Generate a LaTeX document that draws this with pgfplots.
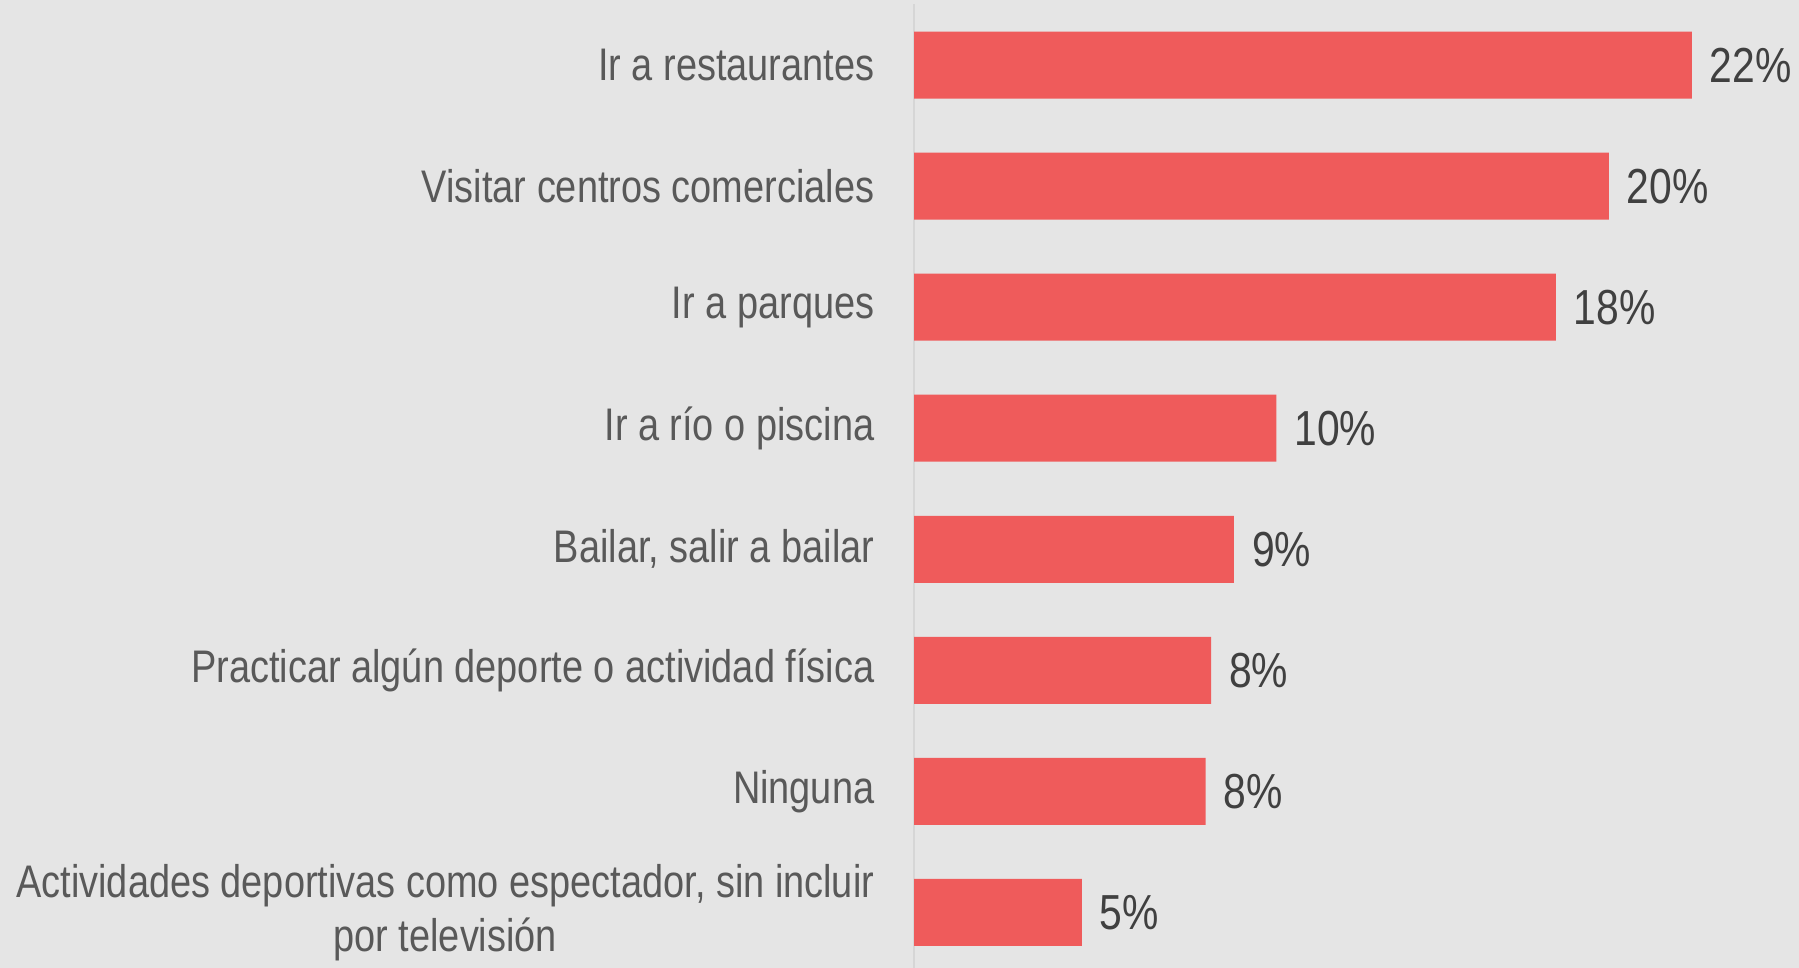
\documentclass[border=0pt]{standalone}
\usepackage{pgfplots}
\pgfplotsset{compat=1.18}
\usepackage{fontspec}
\setmainfont{Liberation Sans}[FakeStretch=0.83]
\definecolor{bg}{HTML}{E5E5E5}
\definecolor{barred}{HTML}{EF5B5B}
\definecolor{labelgray}{HTML}{595959}
\definecolor{numgray}{HTML}{404040}
\definecolor{axisgray}{HTML}{D6D6D6}
\begin{document}
\begin{tikzpicture}[x=1mm,y=1mm]
\useasboundingbox (0,0) rectangle (179.9,96.8);
\fill[bg] (0,0) rectangle (179.9,96.8);
\begin{axis}[
  at={(91.4mm,-0.5mm)}, anchor=south west,
  scale only axis, width=88.5mm, height=96.85mm,
  xmin=0, xmax=25.03, ymin=-0.5, ymax=7.5,
  y dir=reverse,
  axis x line=none, axis y line*=left,
  y axis line style={draw=axisgray, line width=0.6pt, -},
  ytick={0,...,7},
  yticklabels={Ir a restaurantes, Visitar centros comerciales, Ir a parques, Ir a río o piscina, {Bailar, salir a bailar}, Practicar algún deporte o actividad física, Ninguna, {Actividades deportivas como espectador, sin incluir\\por televisión}},
  ytick style={draw=none},
  yticklabel style={font=\fontsize{13}{15.5}\selectfont, text=labelgray, align=center, xshift=-3.5pt},
  xbar, bar width=6.7mm,
  point meta=x,
  nodes near coords={\pgfmathprintnumber[fixed,precision=0,assume math mode=true]{\pgfplotspointmeta}\%},
  nodes near coords style={font=\fontsize{14}{16}\selectfont, text=numgray, anchor=west, xshift=1.6pt},
]
\addplot[fill=barred, draw=none] coordinates {
(22,0) (19.65,1) (18.15,2) (10.25,3) (9.05,4) (8.4,5) (8.25,6) (4.75,7)
};
\end{axis}
\end{tikzpicture}
\end{document}
